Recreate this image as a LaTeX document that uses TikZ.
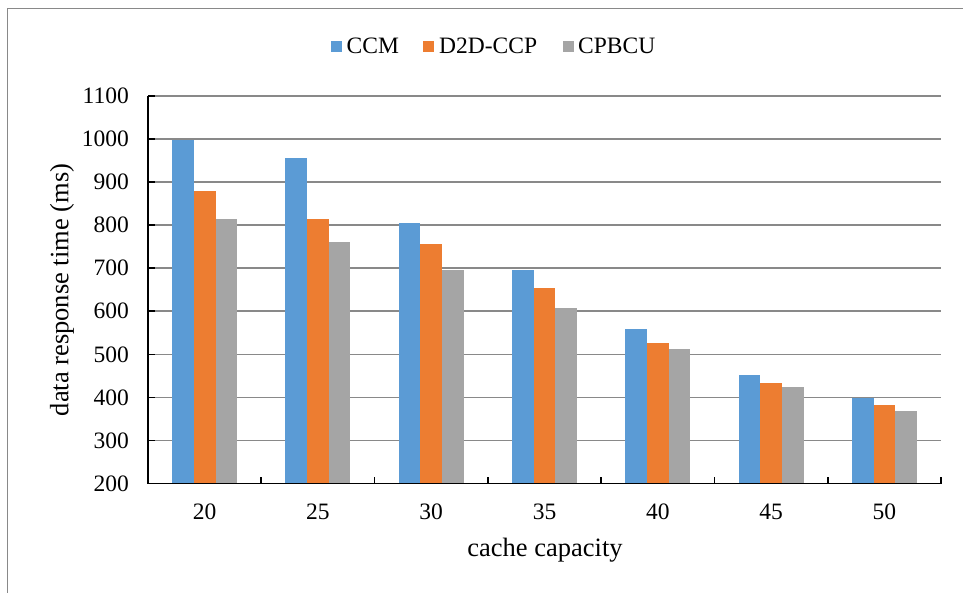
\documentclass[tikz,border=0pt]{standalone}
\usepackage{fontspec}
\setmainfont{Liberation Serif}
\definecolor{ccmblue}{HTML}{5B9BD5}
\definecolor{d2dorange}{HTML}{ED7D31}
\definecolor{cpbgray}{HTML}{A5A5A5}
\definecolor{gridgray}{HTML}{898989}
\tikzset{
  lbl/.style={font=\fontsize{23.5}{28}\selectfont, inner sep=0pt},
  ttl/.style={font=\fontsize{26.5}{31}\selectfont, inner sep=0pt},
  gridline/.style={draw=gridgray, line width=1.6pt},
  axisline/.style={draw=black, line width=1.6pt},
  framebox/.style={draw=gridgray, line width=1.6pt},
  legsq/.style={minimum size=11pt, inner sep=0pt, draw=none},
}
\begin{document}
\begin{tikzpicture}[x=1pt, y=-1pt]
  \useasboundingbox (0,0) rectangle (963,592);
  \clip (0,0) rectangle (963,592);
  \fill[white] (0,0) rectangle (963,592);
  % outer chart frame (runs past the right and bottom edges)
  \draw[framebox] (7.5,8.5) rectangle (990,620);

  % value -> pixel row
  \pgfmathsetmacro{\ybase}{483.6}
  \pgfmathsetmacro{\yscale}{0.431}
  \pgfmathsetmacro{\xleft}{148}
  \pgfmathsetmacro{\xright}{941}
  \pgfmathsetmacro{\gw}{(\xright-\xleft)/7}

  % horizontal gridlines and value labels
  \foreach \v in {300,400,...,1100} {
    \pgfmathsetmacro{\yy}{\ybase-(\v-200)*\yscale}
    \draw[gridline] (\xleft,\yy) -- (\xright,\yy);
  }
  \foreach \v in {200,300,...,1100} {
    \pgfmathsetmacro{\yy}{\ybase-(\v-200)*\yscale}
    \node[lbl, anchor=east] (ytick\v) at (129,\yy) {\v};
  }

  % bars: CCM, D2D-CCP, CPBCU for each capacity
  \pgfmathsetmacro{\bw}{21.7}
  \foreach \i/\a/\b/\c in {0/998/878/815, 1/956/814/760, 2/805/756/695,
                           3/695/653/608, 4/558/526/513, 5/453/433/424,
                           6/398/383/368} {
    \pgfmathsetmacro{\x}{\xleft+\i*\gw+24.1}
    \pgfmathsetmacro{\ya}{\ybase-(\a-200)*\yscale}
    \pgfmathsetmacro{\yb}{\ybase-(\b-200)*\yscale}
    \pgfmathsetmacro{\yc}{\ybase-(\c-200)*\yscale}
    \fill[ccmblue] (\x,\ybase) rectangle (\x+\bw,\ya);
    \fill[d2dorange] (\x+\bw,\ybase) rectangle (\x+2*\bw,\yb);
    \fill[cpbgray] (\x+2*\bw,\ybase) rectangle (\x+3*\bw,\yc);
  }

  % axes with inward tick marks
  \coordinate (origin) at (\xleft,\ybase);
  \coordinate (xend) at (\xright,\ybase);
  \coordinate (ytop) at (\xleft,95.7);
  \draw[axisline] (ytop) -- (origin) -- (xend);
  \foreach \v in {300,400,...,1100} {
    \pgfmathsetmacro{\yy}{\ybase-(\v-200)*\yscale}
    \draw[axisline] (\xleft,\yy) -- (\xleft+7,\yy);
  }
  \foreach \i in {1,...,7} {
    \pgfmathsetmacro{\x}{\xleft+\i*\gw}
    \draw[axisline] (\x,\ybase) -- (\x,\ybase-7);
  }

  % category labels
  \foreach \i/\t in {0/20,1/25,2/30,3/35,4/40,5/45,6/50} {
    \pgfmathsetmacro{\x}{\xleft+(\i+0.5)*\gw}
    \node[lbl] (xtick\t) at (\x,512) {\t};
  }

  % axis titles
  \node[ttl] (xtitle) at (545,550) {cache capacity};
  \node[ttl, rotate=90] (ytitle) at (62,290) {data response time (ms)};

  % legend
  \node[legsq, fill=ccmblue] (legA) at (336.2,46) {};
  \node[lbl, anchor=west] (legAt) at (346.5,46) {CCM};
  \node[legsq, fill=d2dorange] (legB) at (428.5,46) {};
  \node[lbl, anchor=west] (legBt) at (439,46) {D2D-CCP};
  \node[legsq, fill=cpbgray] (legC) at (568.5,46) {};
  \node[lbl, anchor=west] (legCt) at (578,46) {CPBCU};
\end{tikzpicture}
\end{document}
